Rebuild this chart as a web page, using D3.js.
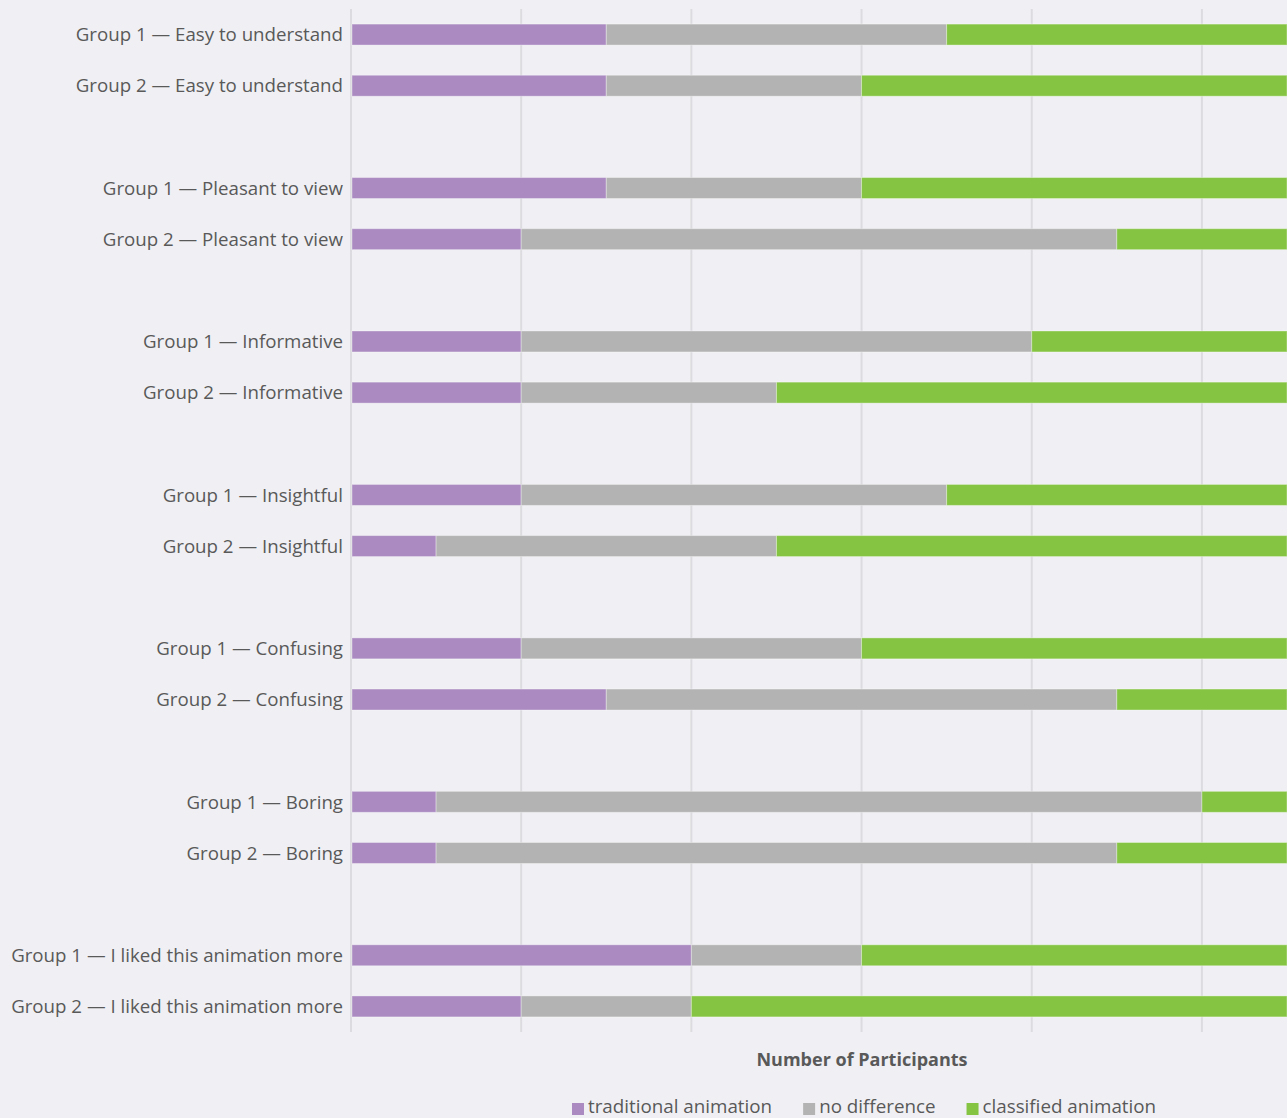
<!DOCTYPE html>
<html>
<head>
<meta charset="utf-8">
<script src="https://cdn.jsdelivr.net/npm/d3@7"></script>
<style>
  html, body { margin: 0; padding: 0; background: #f0f0f4; }
  svg { display: block; }
</style>
</head>
<body>
<svg id="chart" width="1287" height="1118"></svg>
<script>
// ---- data ----
const attributes = ["Easy to understand", "Pleasant to view", "Informative", "Insightful", "Confusing", "Boring", "I liked this animation more"];
const groups = ["Group 1", "Group 2"];
const seriesNames = ["traditional animation", "no difference", "classified animation"];
const traditional = [3, 3, 3, 2, 2, 2, 2, 1, 2, 3, 1, 1, 4, 2];
const noDifference = [4, 3, 3, 7, 6, 3, 5, 4, 4, 6, 9, 8, 2, 2];
const classified = [4, 5, 5, 2, 3, 6, 4, 6, 5, 2, 1, 2, 5, 7];
const gridTicks = [0, 2, 4, 6, 8, 10];
const xMax = 11;
const axisTitle = "Number of Participants";

// ---- styles ----
const colors = ["#aa8ac1", "#b3b3b3", "#85c443"];
const textColor = "#595959";
const font = "'Open Sans', 'Noto Sans', sans-serif";

// build rows
const rows = [];
attributes.forEach((a, ai) => {
  groups.forEach((g, gi) => {
    const i = ai * groups.length + gi;
    rows.push({ key: `${g} — ${a}`, vals: [traditional[i], noDifference[i], classified[i]] });
  });
});

// slot domain with spacers between attribute pairs
const slots = [];
attributes.forEach((a, ai) => {
  groups.forEach(g => slots.push(`${g} — ${a}`));
  if (ai < attributes.length - 1) slots.push(`__gap${ai}`);
});

const svg = d3.select("#chart");
const x = d3.scaleLinear().domain([0, xMax]).range([351, 1287]);
const y = d3.scaleBand().domain(slots).range([9, 1032]).paddingInner(0.59).paddingOuter(0.295);

// grid
svg.append("g").selectAll("line").data(gridTicks).join("line")
  .attr("x1", d => x(d)).attr("x2", d => x(d))
  .attr("y1", 9).attr("y2", 1032)
  .attr("stroke", "#dcdce0").attr("stroke-width", 2);

// stacked bars
const stackData = rows.map(r => {
  let acc = 0;
  return r.vals.map((v, si) => { const s = { key: r.key, x0: acc, x1: acc + v, si }; acc += v; return s; });
}).flat();

svg.append("g").selectAll("rect").data(stackData.filter(d => d.x1 > d.x0)).join("rect")
  .attr("x", d => x(d.x0) + (d.x0 === 0 ? 1 : 0))
  .attr("width", d => x(d.x1) - x(d.x0) - (d.x0 === 0 ? 1 : 0))
  .attr("y", d => y(d.key))
  .attr("height", y.bandwidth())
  .attr("fill", d => colors[d.si])
  .attr("stroke", "#ffffff").attr("stroke-opacity", 0.35).attr("stroke-width", 1);

// y labels
const yAxis = d3.axisLeft(y).tickSize(0).tickPadding(8).tickValues(rows.map(r => r.key));
const yg = svg.append("g").attr("transform", "translate(351,0)").call(yAxis);
yg.select(".domain").remove();
yg.selectAll("text").attr("fill", textColor).attr("dy", "0.36em")
  .style("font-family", font).style("font-size", "18.7px");

// axis title
svg.append("text").attr("x", 862).attr("y", 1066).attr("text-anchor", "middle")
  .attr("fill", textColor).style("font-family", font).style("font-size", "18px").style("font-weight", "bold")
  .text(axisTitle);

// legend
const lg = svg.append("g");
let lx = 572;
seriesNames.forEach((name, i) => {
  lg.append("rect").attr("x", lx).attr("y", 1103).attr("width", 12).attr("height", 12).attr("fill", colors[i]);
  const t = lg.append("text").attr("x", lx + 16).attr("y", 1113)
    .attr("fill", textColor).style("font-family", font).style("font-size", "18.8px").text(name);
  const w = t.node().getComputedTextLength();
  lx = lx + 16 + w + 31;
});
</script>
</body>
</html>
